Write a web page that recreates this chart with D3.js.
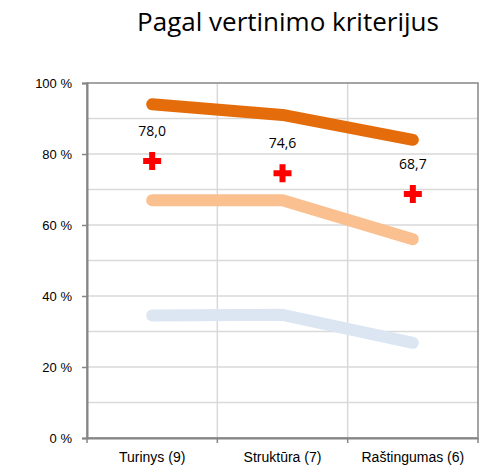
<!DOCTYPE html>
<html>
<head>
<meta charset="utf-8">
<script src="https://cdn.jsdelivr.net/npm/d3@7"></script>
<style>
  body { margin: 0; background: #fff; }
  svg { display: block; font-family: "Open Sans", sans-serif; }
</style>
</head>
<body>
<div id="chart"></div>
<script>
const categories = ["Turinys (9)", "Struktūra (7)", "Raštingumas (6)"];
const topLine = [94, 91, 84];
const midLine = [67, 67, 56];
const lowLine = [34.5, 34.7, 26.8];
const avgValues = [78.0, 74.6, 68.7];
const avgLabels = ["78,0", "74,6", "68,7"];
const yTicks = [0, 20, 40, 60, 80, 100];

const width = 480, height = 469;
const margin = {top: 83, right: 2, bottom: 31, left: 87};
const w = width - margin.left - margin.right,
      h = height - margin.top - margin.bottom;

const svg = d3.select("#chart").append("svg")
    .attr("width", width)
    .attr("height", height);

svg.append("text")
    .attr("x", 288)
    .attr("y", 31)
    .attr("text-anchor", "middle")
    .style("font-size", "26px")
    .style("fill", "#000")
    .text("Pagal vertinimo kriterijus");

const g = svg.append("g")
    .attr("transform", "translate(" + margin.left + "," + margin.top + ")");

const x = d3.scaleBand().domain(categories).range([0, w]);
const y = d3.scaleLinear().domain([0, 100]).range([h, 0]);

// horizontal grid every 10 %
g.selectAll(".hgrid")
  .data(d3.range(10, 100, 10))
  .enter().append("line")
    .attr("x1", 0).attr("x2", w)
    .attr("y1", function(d) { return y(d); })
    .attr("y2", function(d) { return y(d); })
    .style("stroke", "#d9d9d9")
    .style("stroke-width", 1.5);

// vertical grid between categories
g.selectAll(".vgrid")
  .data(categories.slice(1))
  .enter().append("line")
    .attr("x1", function(d) { return x(d); })
    .attr("x2", function(d) { return x(d); })
    .attr("y1", 0).attr("y2", h)
    .style("stroke", "#d9d9d9")
    .style("stroke-width", 1.5);

// frame
g.append("rect")
    .attr("x", 0).attr("y", 0)
    .attr("width", w).attr("height", h)
    .style("fill", "none")
    .style("stroke", "#868686")
    .style("stroke-width", 1.5);

// y axis
const yAxis = g.append("g")
    .call(d3.axisLeft(y).tickValues(yTicks).tickSize(5).tickFormat(function(d) { return d + " %"; }));
yAxis.select(".domain").style("stroke", "#868686").style("stroke-width", 2);
yAxis.selectAll(".tick line").style("stroke", "#868686").style("stroke-width", 1.5);
yAxis.selectAll("text").style("font-size", "13px").style("fill", "#000")
    .attr("x", -15);

// x axis
const xAxis = g.append("g")
    .attr("transform", "translate(0," + h + ")")
    .call(d3.axisBottom(x).tickSize(0));
xAxis.select(".domain").style("stroke", "#868686").style("stroke-width", 2);
xAxis.selectAll("text").style("font-size", "14px").style("fill", "#000").attr("dy", "1.5em");
g.selectAll(".xtick")
  .data(x.domain().map(function(d) { return x(d); }).concat([w]))
  .enter().append("line")
    .attr("x1", function(d) { return d; })
    .attr("x2", function(d) { return d; })
    .attr("y1", h).attr("y2", h + 5)
    .style("stroke", "#868686")
    .style("stroke-width", 1.5);

const cx = function(i) { return x(categories[i]) + x.bandwidth() / 2; };
const line = d3.line()
    .x(function(d, i) { return cx(i); })
    .y(function(d) { return y(d); });

const series = [
  {values: lowLine, color: "#dce6f2"},
  {values: midLine, color: "#fac090"},
  {values: topLine, color: "#e46c0a"}
];
series.forEach(function(s) {
  g.append("path")
      .datum(s.values)
      .attr("d", line)
      .style("fill", "none")
      .style("stroke", s.color)
      .style("stroke-width", 12)
      .style("stroke-linecap", "round")
      .style("stroke-linejoin", "round");
});

// averages as red crosses
const cross = d3.symbol().type(d3.symbolCross).size(180);
g.selectAll(".avg")
  .data(avgValues)
  .enter().append("path")
    .attr("d", cross)
    .attr("transform", function(d, i) { return "translate(" + cx(i) + "," + y(d) + ")"; })
    .style("fill", "#ff0000");

g.selectAll(".avglbl")
  .data(avgValues)
  .enter().append("text")
    .attr("x", function(d, i) { return cx(i); })
    .attr("y", function(d) { return y(d) - 25; })
    .attr("text-anchor", "middle")
    .style("font-size", "14px")
    .style("fill", "#000")
    .text(function(d, i) { return avgLabels[i]; });
</script>
</body>
</html>
